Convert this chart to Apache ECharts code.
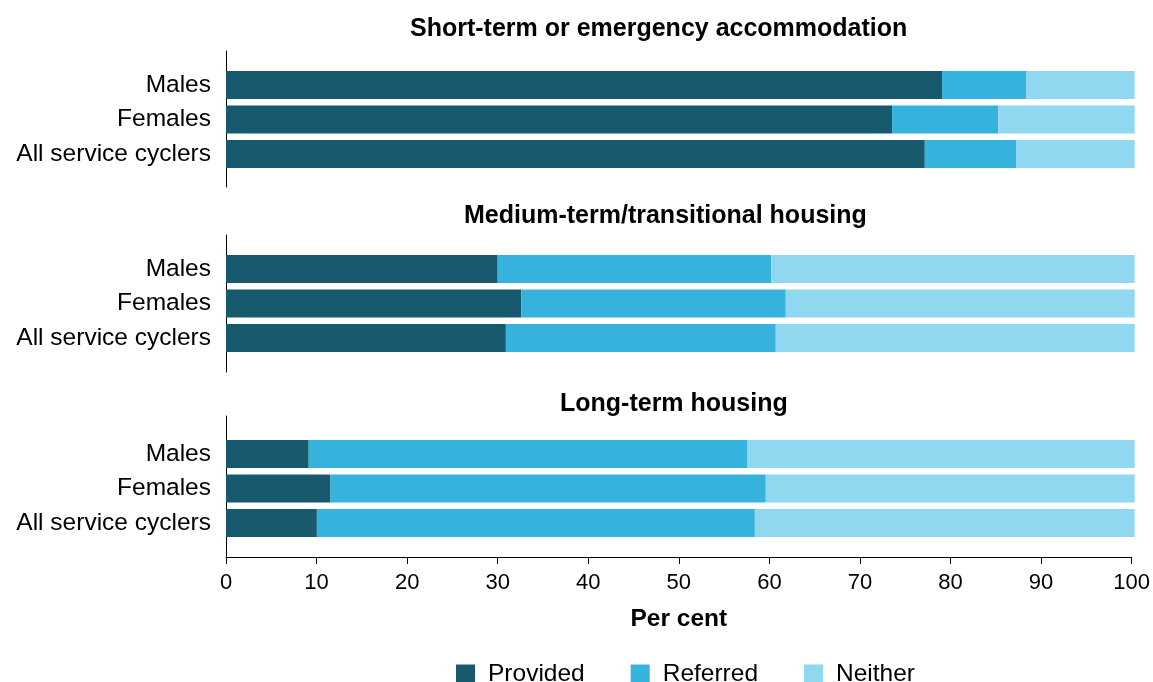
<!DOCTYPE html>
<html>
<head>
<meta charset="utf-8">
<script src="https://cdn.jsdelivr.net/npm/echarts@6/dist/echarts.min.js"></script>
<style>
  html, body { margin: 0; padding: 0; background: #fff; }
  #chart { width: 1153px; height: 682px; }
</style>
</head>
<body>
<div id="chart"></div>
<script>
// Housing assistance outcomes for service cyclers, by type of housing need (per cent)
const categories = ['Males', 'Females', 'All service cyclers'];
const panelTitles = [
  'Short-term or emergency accommodation',
  'Medium-term/transitional housing',
  'Long-term housing'
];
const seriesNames = ['Provided', 'Referred', 'Neither'];

const shortProvided = [78.8, 73.3, 76.9];
const shortReferred = [9.3, 11.7, 10.1];
const shortNeither  = [11.9, 15.0, 13.0];

const mediumProvided = [29.9, 32.5, 30.8];
const mediumReferred = [30.1, 29.1, 29.7];
const mediumNeither  = [40.0, 38.4, 39.5];

const longProvided = [9.1, 11.5, 10.0];
const longReferred = [48.3, 47.9, 48.2];
const longNeither  = [42.6, 40.6, 41.8];

const xTickValues = [0, 10, 20, 30, 40, 50, 60, 70, 80, 90, 100];

const panels = [
  [shortProvided, shortReferred, shortNeither],
  [mediumProvided, mediumReferred, mediumNeither],
  [longProvided, longReferred, longNeither]
];

const colors = ['#175A6E', '#35B3DC', '#8FD8EF'];
const FONT = "'Liberation Sans', Arial, sans-serif";

// layout
const plotLeft = 226;
const plotRight = 18.3;
const barGridTops = [67.75, 251.75, 436.75];
const barGridHeight = 103.5;
const frames = [[51, 136], [235, 137], [416, 141]];
const titleTops = [17, 204, 392];
const titleLefts = [410, 464, 560];

const grid = [];
const xAxis = [];
const yAxis = [];
const series = [];
const title = [];

panels.forEach((panel, i) => {
  // grid holding the bars
  grid.push({ left: plotLeft, right: plotRight, top: barGridTops[i], height: barGridHeight });
  xAxis.push({ gridIndex: grid.length - 1, type: 'value', min: 0, max: 100, show: false });
  yAxis.push({
    gridIndex: grid.length - 1,
    type: 'category',
    data: categories,
    inverse: true,
    axisLine: { show: false },
    axisTick: { show: false },
    axisLabel: { color: '#000', fontSize: 24.5, fontFamily: FONT, margin: 15 }
  });
  const axisIdx = xAxis.length - 1;
  panel.forEach((vals, k) => {
    series.push({
      type: 'bar',
      name: seriesNames[k],
      xAxisIndex: axisIdx,
      yAxisIndex: axisIdx,
      stack: 'panel' + i,
      data: vals,
      barWidth: 28,
      itemStyle: { color: colors[k] },
      emphasis: { disabled: true },
      animation: false
    });
  });

  title.push({
    text: panelTitles[i],
    left: titleLefts[i],
    top: titleTops[i],
    padding: 0,
    textStyle: { fontFamily: FONT, fontSize: 25, fontWeight: 'bold', color: '#000', lineHeight: 25 }
  });
});

// frame grids carrying the vertical axis lines and the shared per-cent axis
frames.forEach((f, i) => {
  grid.push({ left: plotLeft, right: plotRight, top: f[0], height: f[1] });
  const last = i === frames.length - 1;
  xAxis.push(last ? {
    gridIndex: grid.length - 1,
    type: 'value',
    min: 0,
    max: 100,
    interval: 10,
    name: 'Per cent',
    nameLocation: 'middle',
    nameGap: 50,
    nameTextStyle: { fontFamily: FONT, fontSize: 24.5, fontWeight: 'bold', color: '#000' },
    axisLine: { show: true, lineStyle: { color: '#000', width: 1 } },
    axisTick: { show: true, length: 7, lineStyle: { color: '#000' } },
    axisLabel: {
      color: '#000', fontSize: 22, fontFamily: FONT, margin: 15,
      formatter: v => (xTickValues.indexOf(v) >= 0 ? String(v) : '')
    },
    splitLine: { show: false }
  } : { gridIndex: grid.length - 1, type: 'value', min: 0, max: 100, show: false });
  yAxis.push({
    gridIndex: grid.length - 1,
    type: 'value',
    min: 0,
    max: 1,
    axisLine: { show: true, lineStyle: { color: '#000', width: 1 } },
    axisTick: { show: false },
    axisLabel: { show: false },
    splitLine: { show: false }
  });
});

const chart = echarts.init(document.getElementById('chart'), null, { renderer: 'canvas' });
chart.setOption({
  animation: false,
  backgroundColor: '#fff',
  title,
  legend: {
    data: seriesNames,
    left: 456,
    top: 661.5,
    padding: 0,
    itemWidth: 19,
    itemHeight: 19,
    itemGap: 46,
    icon: 'rect',
    selectedMode: false,
    textStyle: { fontFamily: FONT, fontSize: 24.5, color: '#000', padding: [0, 0, 0, 8] }
  },
  grid,
  xAxis,
  yAxis,
  series
});
</script>
</body>
</html>
